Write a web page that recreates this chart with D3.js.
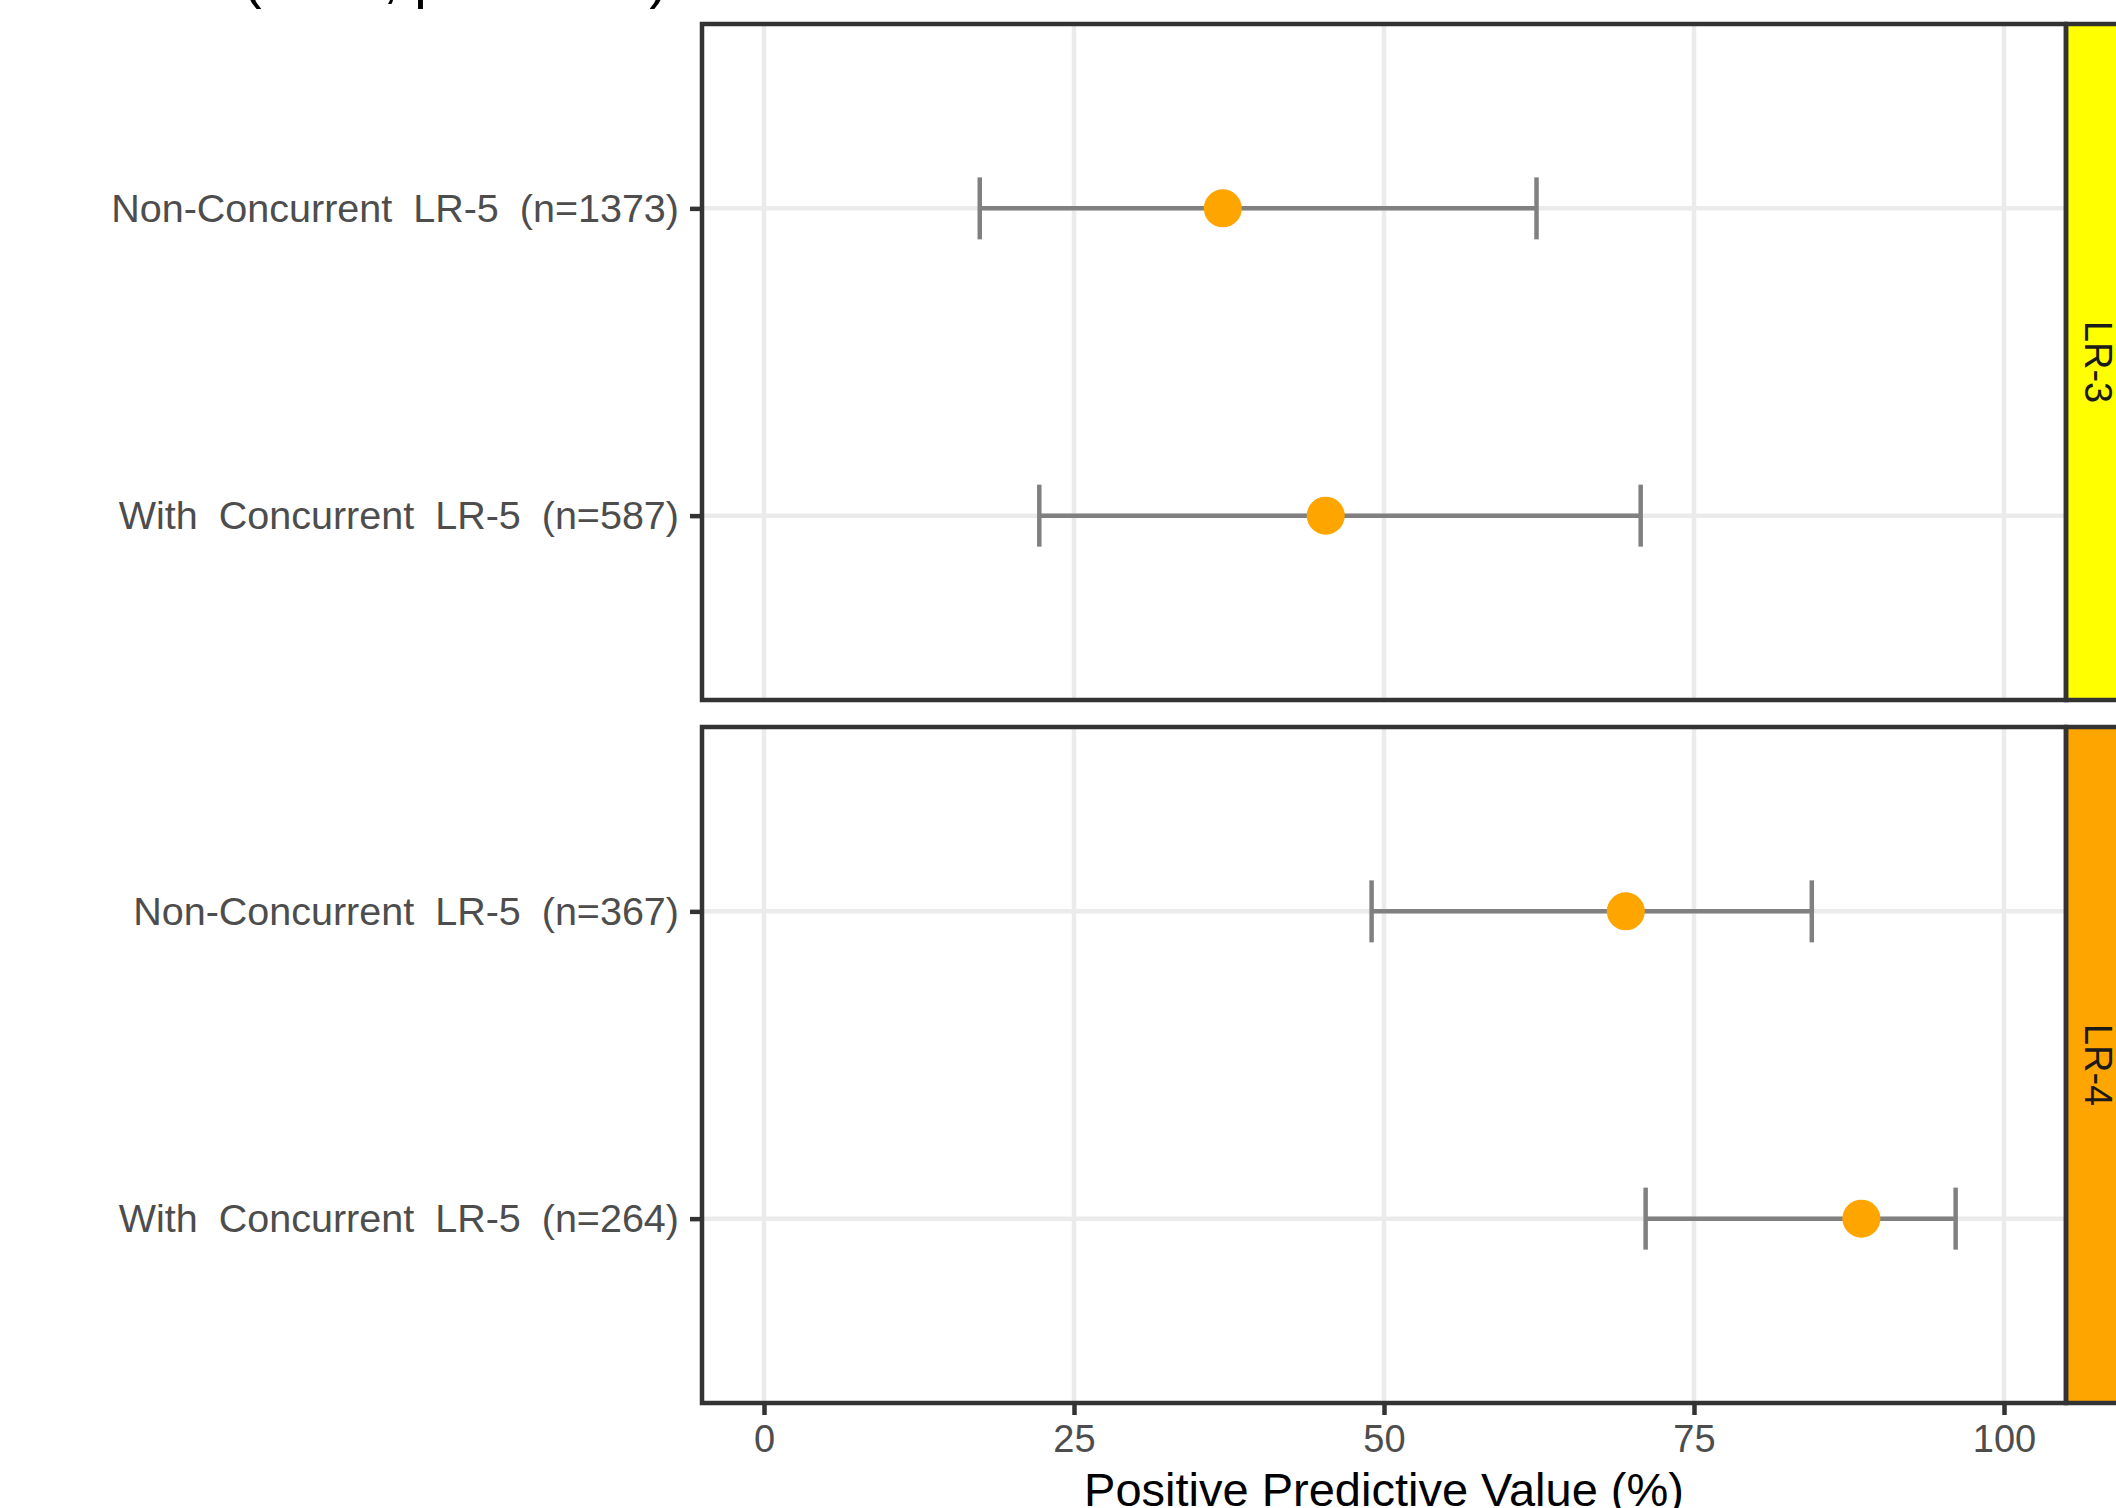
<!DOCTYPE html>
<html>
<head>
<meta charset="utf-8">
<script src="https://cdn.jsdelivr.net/npm/d3@7"></script>
<style>
  body { margin: 0; background: #fff; }
  svg { display: block; font-family: "Liberation Sans", Arial, sans-serif; }
</style>
</head>
<body>
<div class="chart"></div>
<script>
// data
var strata = ["LR-3", "LR-4"];
var categories = [
  "Non-Concurrent LR-5 (n=1373)",
  "With Concurrent LR-5 (n=587)",
  "Non-Concurrent LR-5 (n=367)",
  "With Concurrent LR-5 (n=264)"
];
var stratumOf = ["LR-3", "LR-3", "LR-4", "LR-4"];
var ppv = [37.0, 45.3, 69.5, 88.5];
var ciLow = [17.4, 22.2, 49.0, 71.1];
var ciHigh = [62.3, 70.7, 84.5, 96.1];
var xTicks = [0, 25, 50, 75, 100];
var stripFill = {"LR-3": "#FFFF00", "LR-4": "#FFA500"};

var svgWidth = 2116;
var svgHeight = 1508;

var panelLeft = 702;
var panelRight = 2066;
var panelTops = [24, 727];
var panelHeight = 676;
var stripWidth = 78;

var rows = categories.map(function(c, i) {
  return {label: c, stratum: stratumOf[i], ppv: ppv[i], lo: ciLow[i], hi: ciHigh[i]};
});

var svg = d3.select(".chart")
  .append("svg")
  .attr("width", svgWidth)
  .attr("height", svgHeight);

var xScale = d3.scaleLinear()
  .domain([-5, 105])
  .range([panelLeft, panelRight]);

// title (mostly above the visible area in the original)
svg.append("text")
  .attr("x", 668)
  .attr("y", -3)
  .attr("text-anchor", "end")
  .style("font-size", "56px")
  .style("fill", "#000")
  .text("(LR-3, p < 0.001)");

strata.forEach(function(s, k) {
  var top = panelTops[k];
  var bottom = top + panelHeight;
  var data = rows.filter(function(d) { return d.stratum === s; });

  var yScale = d3.scalePoint()
    .domain(data.map(function(d) { return d.label; }))
    .range([top, bottom])
    .padding(0.6);

  var g = svg.append("g");

  g.append("rect")
    .attr("x", panelLeft)
    .attr("y", top)
    .attr("width", panelRight - panelLeft)
    .attr("height", panelHeight)
    .attr("fill", "#fff");

  // grid
  g.selectAll(".vgrid")
    .data(xTicks)
    .enter()
    .append("line")
    .attr("x1", function(d) { return xScale(d); })
    .attr("x2", function(d) { return xScale(d); })
    .attr("y1", top)
    .attr("y2", bottom)
    .attr("stroke", "#EBEBEB")
    .attr("stroke-width", 4.5);

  g.selectAll(".hgrid")
    .data(data)
    .enter()
    .append("line")
    .attr("x1", panelLeft)
    .attr("x2", panelRight)
    .attr("y1", function(d) { return yScale(d.label); })
    .attr("y2", function(d) { return yScale(d.label); })
    .attr("stroke", "#EBEBEB")
    .attr("stroke-width", 4.5);

  // error bars
  var bars = g.selectAll(".bar")
    .data(data)
    .enter()
    .append("g");

  bars.append("line")
    .attr("x1", function(d) { return xScale(d.lo); })
    .attr("x2", function(d) { return xScale(d.hi); })
    .attr("y1", function(d) { return yScale(d.label); })
    .attr("y2", function(d) { return yScale(d.label); })
    .attr("stroke", "#808080")
    .attr("stroke-width", 4.5);

  ["lo", "hi"].forEach(function(key) {
    bars.append("line")
      .attr("x1", function(d) { return xScale(d[key]); })
      .attr("x2", function(d) { return xScale(d[key]); })
      .attr("y1", function(d) { return yScale(d.label) - 31; })
      .attr("y2", function(d) { return yScale(d.label) + 31; })
      .attr("stroke", "#808080")
      .attr("stroke-width", 4.5);
  });

  g.selectAll(".pt")
    .data(data)
    .enter()
    .append("circle")
    .attr("cx", function(d) { return xScale(d.ppv); })
    .attr("cy", function(d) { return yScale(d.label); })
    .attr("r", 19)
    .attr("fill", "#FFA500");

  // strip
  g.append("rect")
    .attr("x", panelRight)
    .attr("y", top)
    .attr("width", stripWidth)
    .attr("height", panelHeight)
    .attr("fill", stripFill[s])
    .attr("stroke", "#333")
    .attr("stroke-width", 4.5);

  g.append("text")
    .attr("transform", "translate(" + (panelRight + 32) + "," + (top + panelHeight / 2) + ") rotate(90)")
    .attr("text-anchor", "middle")
    .attr("dy", "0.35em")
    .style("font-size", "38px")
    .style("fill", "#1A1A1A")
    .text(s);

  // panel border
  g.append("rect")
    .attr("x", panelLeft)
    .attr("y", top)
    .attr("width", panelRight - panelLeft)
    .attr("height", panelHeight)
    .attr("fill", "none")
    .attr("stroke", "#333")
    .attr("stroke-width", 4.5);

  // y axis
  var yAxis = g.append("g")
    .attr("transform", "translate(" + panelLeft + ",0)")
    .call(d3.axisLeft(yScale).tickSize(12).tickPadding(11));
  yAxis.select(".domain").remove();
  yAxis.selectAll(".tick line").attr("stroke", "#333").attr("stroke-width", 4.5);
  yAxis.selectAll(".tick text")
    .attr("fill", "#4D4D4D")
    .style("font-size", "39.5px")
    .style("word-spacing", "10px")
    .style("font-family", "'Liberation Sans', Arial, sans-serif");
});

// x axis under the bottom panel
var xAxis = svg.append("g")
  .attr("transform", "translate(0," + (panelTops[1] + panelHeight) + ")")
  .call(d3.axisBottom(xScale).tickValues(xTicks).tickSize(12).tickPadding(10));
xAxis.select(".domain").remove();
xAxis.selectAll(".tick line").attr("stroke", "#333").attr("stroke-width", 4.5);
xAxis.selectAll(".tick text")
  .attr("fill", "#4D4D4D")
  .style("font-size", "38px")
  .style("font-family", "'Liberation Sans', Arial, sans-serif");

svg.append("text")
  .attr("x", (panelLeft + panelRight) / 2)
  .attr("y", 1506)
  .attr("text-anchor", "middle")
  .style("font-size", "47px")
  .style("fill", "#000")
  .text("Positive Predictive Value (%)");
</script>
</body>
</html>
